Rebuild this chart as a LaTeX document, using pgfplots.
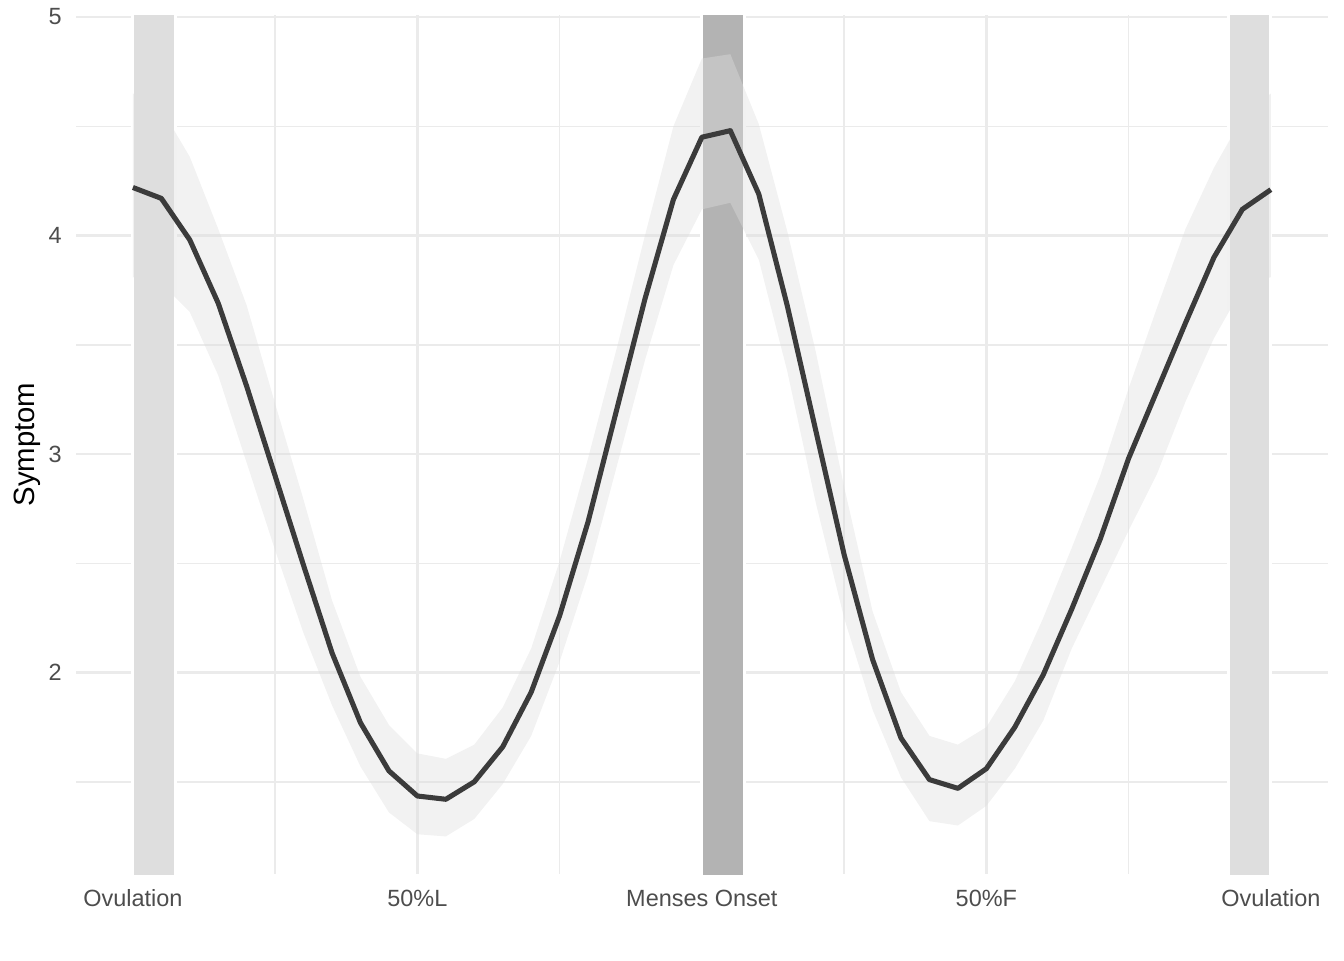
\documentclass[border=0pt]{standalone}
\usepackage{fontspec}
\setmainfont{Liberation Sans}
\usepackage{pgfplots}
\usepackage{pgfplotstable}
\pgfplotsset{compat=1.18}

\definecolor{gridcol}{HTML}{EBEBEB}
\definecolor{ticktext}{HTML}{4D4D4D}
\definecolor{ovul}{HTML}{DEDEDE}
\definecolor{menses}{HTML}{B3B3B3}
\definecolor{ribbon}{HTML}{DEDEDE}
\definecolor{linecol}{HTML}{3B3B3B}

% phase and mean symptom
\pgfplotstableread{
x      y
-1.00  4.22
-0.95  4.17
-0.90  3.98
-0.85  3.69
-0.80  3.31
-0.75  2.90
-0.70  2.49
-0.65  2.09
-0.60  1.77
-0.55  1.55
-0.50  1.435
-0.45  1.42
-0.40  1.50
-0.35  1.66
-0.30  1.91
-0.25  2.26
-0.20  2.69
-0.15  3.20
-0.10  3.71
-0.05  4.165
 0.00  4.45
 0.05  4.48
 0.10  4.19
 0.15  3.68
 0.20  3.11
 0.25  2.54
 0.30  2.06
 0.35  1.70
 0.40  1.51
 0.45  1.47
 0.50  1.56
 0.55  1.75
 0.60  1.99
 0.65  2.29
 0.70  2.61
 0.75  2.98
 0.80  3.29
 0.85  3.60
 0.90  3.90
 0.95  4.12
 1.00  4.21
}\symptom

% band round the mean: upper edge left to right, then lower edge back
\pgfplotstableread{
x      y
-1.00  4.65
-0.95  4.58
-0.90  4.36
-0.85  4.03
-0.80  3.68
-0.75  3.23
-0.70  2.79
-0.65  2.33
-0.60  1.98
-0.55  1.76
-0.50  1.63
-0.45  1.605
-0.40  1.67
-0.35  1.84
-0.30  2.11
-0.25  2.51
-0.20  2.98
-0.15  3.48
-0.10  4.00
-0.05  4.50
 0.00  4.81
 0.05  4.83
 0.10  4.51
 0.15  4.02
 0.20  3.47
 0.25  2.85
 0.30  2.28
 0.35  1.91
 0.40  1.71
 0.45  1.67
 0.50  1.75
 0.55  1.96
 0.60  2.25
 0.65  2.57
 0.70  2.90
 0.75  3.30
 0.80  3.67
 0.85  4.03
 0.90  4.31
 0.95  4.54
 1.00  4.65
 1.00  3.81
 0.95  3.76
 0.90  3.53
 0.85  3.24
 0.80  2.91
 0.75  2.65
 0.70  2.38
 0.65  2.11
 0.60  1.78
 0.55  1.56
 0.50  1.39
 0.45  1.30
 0.40  1.32
 0.35  1.52
 0.30  1.83
 0.25  2.25
 0.20  2.78
 0.15  3.38
 0.10  3.89
 0.05  4.15
 0.00  4.12
-0.05  3.865
-0.10  3.43
-0.15  2.94
-0.20  2.45
-0.25  2.05
-0.30  1.71
-0.35  1.49
-0.40  1.33
-0.45  1.25
-0.50  1.26
-0.55  1.36
-0.60  1.57
-0.65  1.85
-0.70  2.18
-0.75  2.56
-0.80  2.96
-0.85  3.36
-0.90  3.65
-0.95  3.78
-1.00  3.81
}\band

\begin{document}
\begin{tikzpicture}
\begin{axis}[
	at = {(28.5pt,32.25pt)},
	anchor = south west,
	scale only axis,
	width = 469.4pt,
	height = 322.1pt,
	xmin = -1.1, xmax = 1.1,
	ymin = 1.078, ymax = 5.009,
	axis line style = {draw=none},
	major tick length = 0pt,
	minor tick length = 0pt,
	xtick = {-1,-0.5,0,0.5,1},
	xticklabels = {Ovulation, 50\%L, Menses Onset, 50\%F, Ovulation},
	minor xtick = {-0.75,-0.25,0.25,0.75},
	ytick = {2,3,4,5},
	minor ytick = {1.5,2.5,3.5,4.5},
	grid = both,
	major grid style = {color=gridcol, line width=1pt},
	minor grid style = {color=gridcol, line width=0.55pt},
	/pgf/number format/assume math mode=true,
	ticklabel style = {font=\fontsize{8.8}{10}\selectfont, text=ticktext},
	xticklabel style = {anchor=base, yshift=-12pt},
	yticklabel style = {anchor=east, xshift=-1.8pt},
	ylabel = Symptom,
	ylabel style = {font=\fontsize{11}{13}\selectfont, at={(axis description cs:0,0.5)}, anchor=center, yshift=18.4pt},
]
% phase bands
\addplot [fill=ovul, draw=white, line width=1.2pt] coordinates {(-1,1) (-0.925,1) (-0.925,5.1) (-1,5.1) (-1,1)};
\addplot [fill=menses, draw=white, line width=1.2pt] coordinates {(0,1) (0.075,1) (0.075,5.1) (0,5.1) (0,1)};
\addplot [fill=ovul, draw=white, line width=1.2pt] coordinates {(0.925,1) (1,1) (1,5.1) (0.925,5.1) (0.925,1)};
% band round the mean
\addplot [fill=ribbon, fill opacity=0.4, draw=none] table [x=x, y=y] {\band} -- cycle;
\addplot [color=linecol, line width=1.9pt, line join=round] table [x=x, y=y] {\symptom};
\end{axis}
\pgfresetboundingbox
\useasboundingbox (0,0) rectangle (504pt,360pt);
\end{tikzpicture}
\end{document}
